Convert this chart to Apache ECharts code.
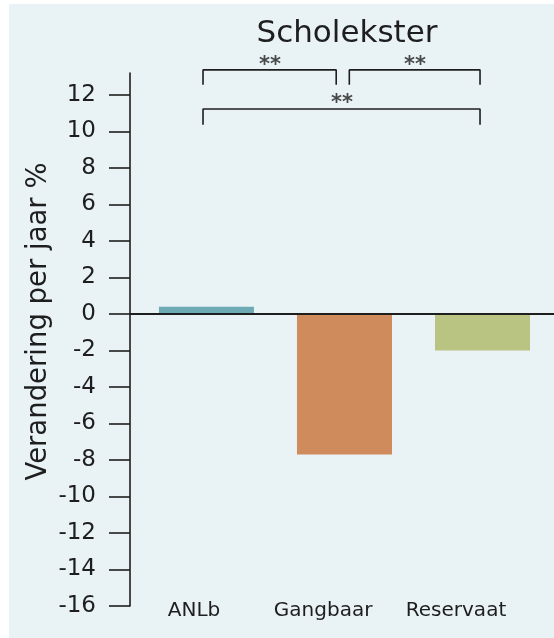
<!DOCTYPE html>
<html>
<head>
<meta charset="utf-8">
<script src="https://cdn.jsdelivr.net/npm/echarts@6/dist/echarts.min.js"></script>
<style>
  html, body { margin: 0; padding: 0; background: #ffffff; }
  #chart { width: 554px; height: 638px; }
</style>
</head>
<body>
<div id="chart"></div>
<script>
// Jaarlijkse verandering per beheertype
const categories = ['ANLb', 'Gangbaar', 'Reservaat'];
const values = [0.4, -7.7, -2.0];
const barColors = ['#6eaab4', '#cf8b5c', '#b9c382'];
// plaats van de categorie-labels op de x-as
const labelPositions = [-0.09, 0.845, 1.808];
const yTicks = [-16, -14, -12, -10, -8, -6, -4, -2, 0, 2, 4, 6, 8, 10, 12];

// significantie-haken: [x, y] punten
const bracketLeft = [[-0.025, 12.55], [-0.025, 13.37], [0.94, 13.37], [0.94, 12.55]];
const bracketRight = [[1.035, 12.55], [1.035, 13.37], [1.982, 13.37], [1.982, 12.55]];
const bracketWide = [[-0.025, 10.36], [-0.025, 11.23], [1.982, 11.23], [1.982, 10.36]];
const starMarks = [[0.46, 13.62], [1.511, 13.62], [0.982, 11.55]];

const FONT = 'DejaVu Sans';
const INK = '#1e1e1e';

const chart = echarts.init(document.getElementById('chart'), null, { renderer: 'canvas' });

const bracketSeries = [bracketLeft, bracketRight, bracketWide].map(pts => ({
  type: 'line',
  data: pts,
  showSymbol: false,
  symbol: 'none',
  clip: false,
  silent: true,
  lineStyle: { color: INK, width: 1.6 },
  z: 5
}));

chart.setOption({
  backgroundColor: '#ffffff',
  animation: false,
  graphic: [{
    type: 'rect',
    left: 9, top: 4,
    shape: { width: 545, height: 634 },
    style: { fill: '#e9f2f5' },
    z: -10, silent: true
  }],
  title: {
    text: 'Scholekster',
    left: 342,
    top: 13,
    textAlign: 'center',
    textStyle: { fontFamily: FONT, fontSize: 31, fontWeight: 'normal', color: INK }
  },
  grid: { left: 130, right: 0, top: 73, bottom: 32, containLabel: false },
  xAxis: {
    type: 'value',
    min: -0.554,
    max: 2.518,
    position: 'bottom',
    axisLine: { show: false, onZero: false },
    axisTick: { show: false },
    splitLine: { show: false },
    axisLabel: {
      customValues: labelPositions,
      formatter: v => categories[labelPositions.indexOf(v)] || '',
      fontFamily: FONT, fontSize: 20, color: INK,
      margin: -5
    }
  },
  yAxis: {
    type: 'value',
    min: -16,
    max: 13.2,
    interval: 2,
    name: 'Verandering per jaar %',
    nameLocation: 'middle',
    nameGap: 77,
    nameMoveOverlap: false,
    nameTextStyle: { fontFamily: FONT, fontSize: 27.5, color: INK, padding: [0, 0, 0, 36] },
    axisLine: { show: true, onZero: false, lineStyle: { color: INK, width: 1.6 } },
    axisTick: { show: true, customValues: yTicks, length: 21, lineStyle: { color: INK, width: 1.6 } },
    splitLine: { show: false },
    axisLabel: {
      customValues: yTicks,
      fontFamily: FONT, fontSize: 23, color: INK,
      margin: 34
    }
  },
  series: [
    {
      type: 'bar',
      barWidth: 95,
      data: values.map((v, i) => ({ value: [i, v], itemStyle: { color: barColors[i] } })),
      markLine: {
        silent: true,
        symbol: 'none',
        label: { show: false },
        lineStyle: { color: INK, width: 2, type: 'solid' },
        data: [{ yAxis: 0 }]
      },
      z: 2
    },
    ...bracketSeries,
    {
      type: 'scatter',
      data: starMarks,
      symbolSize: 2,
      itemStyle: { color: 'rgba(0,0,0,0)' },
      clip: false,
      silent: true,
      label: {
        show: true,
        position: 'inside',
        formatter: '**',
        fontFamily: FONT, fontSize: 21, fontWeight: 'bold', color: INK
      },
      labelLayout: { hideOverlap: false },
      z: 6
    }
  ]
});
</script>
</body>
</html>
